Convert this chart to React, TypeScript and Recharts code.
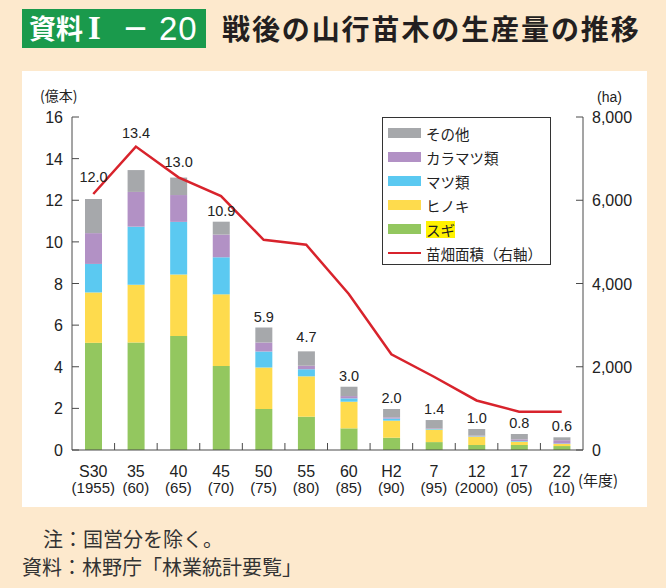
import React from 'react';
import { ComposedChart, Bar, Line, XAxis, YAxis, Legend, LabelList } from 'recharts';

// ---- data ----
const categories = ['S30', '35', '40', '45', '50', '55', '60', 'H2', '7', '12', '17', '22'];
const yearLabels = ['(1955)', '(60)', '(65)', '(70)', '(75)', '(80)', '(85)', '(90)', '(95)', '(2000)', '(05)', '(10)'];
const sugi = [5.15, 5.17, 5.48, 4.04, 1.97, 1.6, 1.04, 0.59, 0.38, 0.24, 0.24, 0.19];
const hinoki = [2.42, 2.77, 2.95, 3.44, 1.99, 1.94, 1.28, 0.82, 0.6, 0.4, 0.16, 0.1];
const matsu = [1.37, 2.79, 2.53, 1.78, 0.77, 0.34, 0.16, 0.1, 0.03, 0.02, 0.03, 0.02];
const karamatsu = [1.48, 1.67, 1.29, 1.09, 0.43, 0.17, 0.11, 0.06, 0.03, 0.03, 0.08, 0.16];
const sonota = [1.64, 1.05, 0.84, 0.62, 0.72, 0.69, 0.45, 0.4, 0.4, 0.32, 0.26, 0.14];
const totalLabels = ['12.0', '13.4', '13.0', '10.9', '5.9', '4.7', '3.0', '2.0', '1.4', '1.0', '0.8', '0.6'];
const nurseryArea = [6150, 7290, 6550, 6100, 5050, 4930, 3750, 2300, 1760, 1190, 920, 920];
const leftTicks = [0, 2, 4, 6, 8, 10, 12, 14, 16];
const rightTicks = [0, 2000, 4000, 6000, 8000];

const data = categories.map((c, i) => ({
  cat: c,
  year: yearLabels[i],
  sugi: sugi[i],
  hinoki: hinoki[i],
  matsu: matsu[i],
  karamatsu: karamatsu[i],
  sonota: sonota[i],
  total: totalLabels[i],
  area: nurseryArea[i],
}));

// ---- layout ----
const W = 666;
const H = 588;
const MARGIN = { top: 117, right: 23, bottom: 88, left: 12 };
const Y_W = 60;
const PLOT_LEFT = MARGIN.left + Y_W;
const PLOT_RIGHT = W - MARGIN.right - Y_W;
const BAND = (PLOT_RIGHT - PLOT_LEFT) / categories.length;
const TICK_GAP = 9;
const TICK_LEN = 7;
const LABEL_LIFT: Record<string, number> = { S30: 22, '35': 37, '40': 16, '55': 14 };

const C_GREEN = '#93c75f';
const C_YELLOW = '#fedb4d';
const C_BLUE = '#5bc9f1';
const C_PURPLE = '#b291c5';
const C_GRAY = '#a6a8ab';
const C_RED = '#d8232c';
const AXIS = '#4a4a4a';
const NUM_FONT = '"Liberation Sans", Arial, sans-serif';
const JP_FONT = '"Noto Sans CJK JP", "Noto Sans", sans-serif';

const LeftTick = (props: any) => {
  const { x, y, payload } = props;
  const ax = x + TICK_GAP;
  return (
    <g>
      <line x1={ax} x2={ax + TICK_LEN} y1={y} y2={y} stroke={AXIS} strokeWidth={1} />
      <text x={x} y={y + 6} textAnchor="end" fontSize={16} fontFamily={NUM_FONT} fill="#222">
        {payload.value}
      </text>
    </g>
  );
};

const RightTick = (props: any) => {
  const { x, y, payload } = props;
  const ax = x - TICK_GAP;
  return (
    <g>
      <line x1={ax - TICK_LEN} x2={ax} y1={y} y2={y} stroke={AXIS} strokeWidth={1} />
      <text x={x} y={y + 6} textAnchor="start" fontSize={16} fontFamily={NUM_FONT} fill="#222">
        {Number(payload.value).toLocaleString('en-US')}
      </text>
    </g>
  );
};

const BottomTick = (props: any) => {
  const { x, y, payload, index } = props;
  const year = yearLabels[index];
  return (
    <g>
      {index > 0 && (
        <line x1={x - BAND / 2} x2={x - BAND / 2} y1={y - TICK_LEN} y2={y} stroke={AXIS} strokeWidth={1} />
      )}
      <text x={x} y={y + 27} textAnchor="middle" fontSize={16} fontFamily={NUM_FONT} fill="#222">
        {payload.value}
      </text>
      <text x={x} y={y + 43} textAnchor="middle" fontSize={15} fontFamily={NUM_FONT} fill="#222">
        {year}
      </text>
    </g>
  );
};

const TotalLabel = (props: any) => {
  const { x, y, width, index, value } = props;
  const cat = categories[index];
  const lift = LABEL_LIFT[cat] ?? 11;
  return (
    <text
      x={x + width / 2}
      y={y - lift + 5}
      textAnchor="middle"
      fontSize={14.5}
      fontFamily={NUM_FONT}
      fill="#222"
    >
      {value}
    </text>
  );
};

const legendItems = [
  { name: 'その他', color: C_GRAY, type: 'rect' },
  { name: 'カラマツ類', color: C_PURPLE, type: 'rect' },
  { name: 'マツ類', color: C_BLUE, type: 'rect' },
  { name: 'ヒノキ', color: C_YELLOW, type: 'rect' },
  { name: 'スギ', color: C_GREEN, type: 'rect', highlight: true },
  { name: '苗畑面積（右軸）', color: C_RED, type: 'line' },
];

const LegendBox = () => (
  <div
    style={{
      boxSizing: 'border-box',
      width: 169,
      height: 148,
      border: '1px solid #333',
      background: '#fff',
      paddingTop: 3,
      paddingLeft: 5,
      fontFamily: JP_FONT,
      fontSize: 14.5,
      color: '#222',
    }}
  >
    {legendItems.map((it) => (
      <div key={it.name} style={{ height: 24, display: 'flex', alignItems: 'center' }}>
        {it.type === 'rect' ? (
          <div style={{ width: 33, height: 10, background: it.color }} />
        ) : (
          <div style={{ width: 33, height: 2.5, background: it.color }} />
        )}
        <span
          style={{
            marginLeft: 5,
            lineHeight: '17px',
            background: it.highlight ? '#fff200' : 'transparent',
            whiteSpace: 'nowrap',
          }}
        >
          {it.name}
        </span>
      </div>
    ))}
  </div>
);

export default function App() {
  return (
    <div
      style={{
        position: 'absolute',
        left: 0,
        top: 0,
        width: W,
        height: H,
        background: '#fde9cd',
        overflow: 'hidden',
        fontFamily: JP_FONT,
      }}
    >
      {/* title badge */}
      <div
        style={{
          position: 'absolute',
          left: 22,
          top: 9,
          width: 184,
          height: 39,
          background: '#1a9a4c',
          color: '#fff',
        }}
      >
        <span style={{ position: 'absolute', left: 7, top: 2, fontSize: 27, fontWeight: 700, lineHeight: '34px' }}>資料</span>
        <span
          style={{
            position: 'absolute',
            left: 66,
            top: 0,
            fontSize: 33,
            fontWeight: 700,
            fontFamily: '"Liberation Serif", "DejaVu Serif", serif',
            lineHeight: '38px',
          }}
        >
          I
        </span>
        <span style={{ position: 'absolute', left: 100, top: 2, fontSize: 27, fontWeight: 700, lineHeight: '34px' }}>－</span>
        <span
          style={{
            position: 'absolute',
            left: 137,
            top: 1,
            fontSize: 33,
            fontFamily: NUM_FONT,
            lineHeight: '37px',
            letterSpacing: 1,
          }}
        >
          20
        </span>
      </div>
      <div
        style={{
          position: 'absolute',
          left: 222,
          top: 10,
          fontSize: 28,
          fontWeight: 700,
          lineHeight: '36px',
          letterSpacing: 1.9,
          color: '#231f20',
          whiteSpace: 'nowrap',
        }}
      >
        戦後の山行苗木の生産量の推移
      </div>

      {/* panel */}
      <div style={{ position: 'absolute', left: 22, top: 71, width: 625, height: 436, background: '#fff' }} />

      <div style={{ position: 'absolute', left: 40, top: 86, fontSize: 14, lineHeight: '18px', color: '#222' }}>(億本)</div>
      <div style={{ position: 'absolute', left: 597, top: 88, fontSize: 14, lineHeight: '18px', color: '#222', fontFamily: NUM_FONT }}>(ha)</div>
      <div style={{ position: 'absolute', left: 578, top: 471, fontSize: 15, lineHeight: '18px', color: '#222' }}>(年度)</div>

      <div style={{ position: 'absolute', left: 0, top: 0 }}>
        <ComposedChart width={W} height={H} data={data} margin={MARGIN} barCategoryGap={0}>
          <XAxis
            dataKey="cat"
            xAxisId="x"
            height={50}
            interval={0}
            tickSize={0}
            tickMargin={0}
            tickLine={false}
            axisLine={{ stroke: AXIS, strokeWidth: 1 }}
            tick={BottomTick}
          />
          <YAxis
            yAxisId="left"
            orientation="left"
            width={Y_W}
            domain={[0, 16]}
            ticks={leftTicks}
            interval={0}
            tickSize={0}
            tickMargin={TICK_GAP}
            tickLine={false}
            axisLine={{ stroke: AXIS, strokeWidth: 1 }}
            tick={LeftTick}
          />
          <YAxis
            yAxisId="right"
            orientation="right"
            width={Y_W}
            domain={[0, 8000]}
            ticks={rightTicks}
            interval={0}
            tickSize={0}
            tickMargin={TICK_GAP}
            tickLine={false}
            axisLine={{ stroke: AXIS, strokeWidth: 1 }}
            tick={RightTick}
          />
          <Legend
            layout="vertical"
            align="center"
            verticalAlign="middle"
            content={LegendBox}
            wrapperStyle={{ position: 'absolute', left: 382, top: 117, width: 169, height: 148 }}
          />
          <Bar dataKey="sugi" name="スギ" stackId="s" xAxisId="x" yAxisId="left" fill={C_GREEN} barSize={17} isAnimationActive={false} />
          <Bar dataKey="hinoki" name="ヒノキ" stackId="s" xAxisId="x" yAxisId="left" fill={C_YELLOW} barSize={17} isAnimationActive={false} />
          <Bar dataKey="matsu" name="マツ類" stackId="s" xAxisId="x" yAxisId="left" fill={C_BLUE} barSize={17} isAnimationActive={false} />
          <Bar dataKey="karamatsu" name="カラマツ類" stackId="s" xAxisId="x" yAxisId="left" fill={C_PURPLE} barSize={17} isAnimationActive={false} />
          <Bar dataKey="sonota" name="その他" stackId="s" xAxisId="x" yAxisId="left" fill={C_GRAY} barSize={17} isAnimationActive={false}>
            <LabelList dataKey="total" content={TotalLabel} />
          </Bar>
          <Line
            dataKey="area"
            name="苗畑面積（右軸）"
            xAxisId="x"
            yAxisId="right"
            type="linear"
            stroke={C_RED}
            strokeWidth={2.5}
            dot={false}
            activeDot={false}
            isAnimationActive={false}
          />
        </ComposedChart>
      </div>

      {/* notes */}
      <div style={{ position: 'absolute', left: 43, top: 528, fontSize: 20, lineHeight: '22px', color: '#333', whiteSpace: 'nowrap' }}>
        注：国営分を除く。
      </div>
      <div style={{ position: 'absolute', left: 22, top: 556, fontSize: 20, lineHeight: '22px', color: '#333', whiteSpace: 'nowrap' }}>
        資料：林野庁「林業統計要覧」
      </div>
    </div>
  );
}
